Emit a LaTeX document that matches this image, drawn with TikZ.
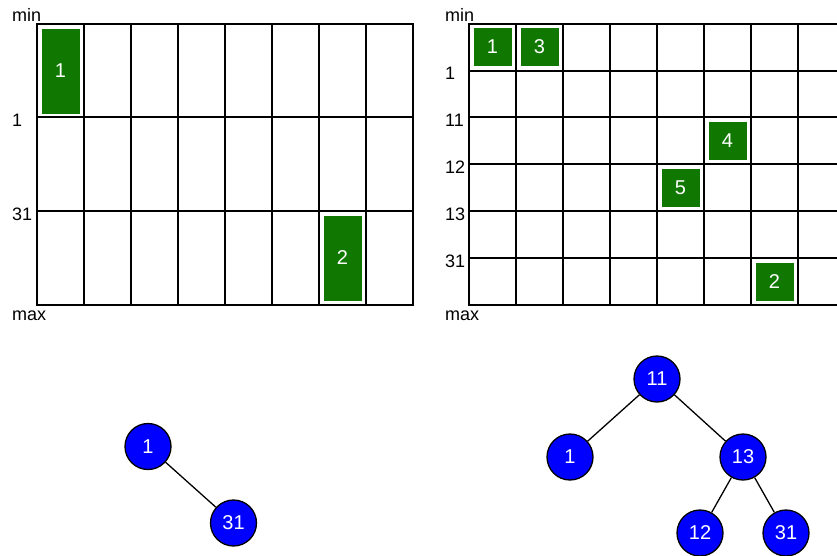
\documentclass[tikz,border=0pt]{standalone}
\usepackage{fontspec}
\setmainfont{Liberation Sans}
\definecolor{cellgreen}{RGB}{16,120,0}
\definecolor{keyblue}{RGB}{0,0,255}

\begin{document}
\begin{tikzpicture}[x=1pt, y=-1pt,
    font=\fontsize{18}{20}\selectfont,
    gridline/.style={line width=2pt, line cap=rect},
    cell/.style={fill=cellgreen, text=white, inner sep=0pt,
                 font=\fontsize{20}{22}\selectfont,
                 minimum width=38pt, minimum height=38pt},
    tall/.style={cell, minimum height=85pt},
    key/.style={circle, draw, line width=1.3pt, fill=keyblue, text=white,
                font=\fontsize{20}{22}\selectfont,
                minimum size=46pt, inner sep=0pt},
    lbl/.style={anchor=base west, inner sep=0pt}]

  \useasboundingbox (0,0) rectangle (837,555);

  % left grid (8 x 3)
  \foreach \x in {37,84,...,413} \draw[gridline] (\x,24) -- (\x,305);
  \foreach \y in {24,117,211,305} \draw[gridline] (37,\y) -- (413,\y);

  \node[lbl] (lmin) at (12,21)    {min};
  \node[lbl] (l1)   at (12,126.5) {1};
  \node[lbl] (l31)  at (12,220.5) {31};
  \node[lbl] (lmax) at (12,320)   {max};

  \node[tall] (a1) at (60.5,71)  {1};
  \node[tall] (a2) at (342.5,258) {2};

  % right grid (runs off the right edge)
  \foreach \x in {469,516,...,798} \draw[gridline] (\x,24) -- (\x,305);
  \foreach \y in {24,70.5,117,164,211,258,305} \draw[gridline] (469,\y) -- (836,\y);

  \node[lbl] (rmin) at (445,21)    {min};
  \node[lbl] (r1)   at (445,79.5)  {1};
  \node[lbl] (r11)  at (445,126.5) {11};
  \node[lbl] (r12)  at (445,173.5) {12};
  \node[lbl] (r13)  at (445,220.5) {13};
  \node[lbl] (r31)  at (445,267.5) {31};
  \node[lbl] (rmax) at (445,320)   {max};

  \node[cell] (b1) at (492.5,47)  {1};
  \node[cell] (b3) at (539.5,47)  {3};
  \node[cell] (b4) at (727.5,141) {4};
  \node[cell] (b5) at (680.5,188) {5};
  \node[cell] (b2) at (774.5,282) {2};

  % left tree
  \node[key] (t1)  at (148,446.5) {1};
  \node[key] (t31) at (233.5,523) {31};
  \draw[line width=1.3pt] (t1) -- (t31);

  % right tree
  \node[key] (k11) at (657,379) {11};
  \node[key] (k1)  at (570,457) {1};
  \node[key] (k13) at (743,457) {13};
  \node[key] (k12) at (700,533) {12};
  \node[key] (k31) at (786,533) {31};

  \draw[line width=1.3pt] (k11) -- (k1);
  \draw[line width=1.3pt] (k11) -- (k13);
  \draw[line width=1.3pt] (k13) -- (k12);
  \draw[line width=1.3pt] (k13) -- (k31);
\end{tikzpicture}
\end{document}
